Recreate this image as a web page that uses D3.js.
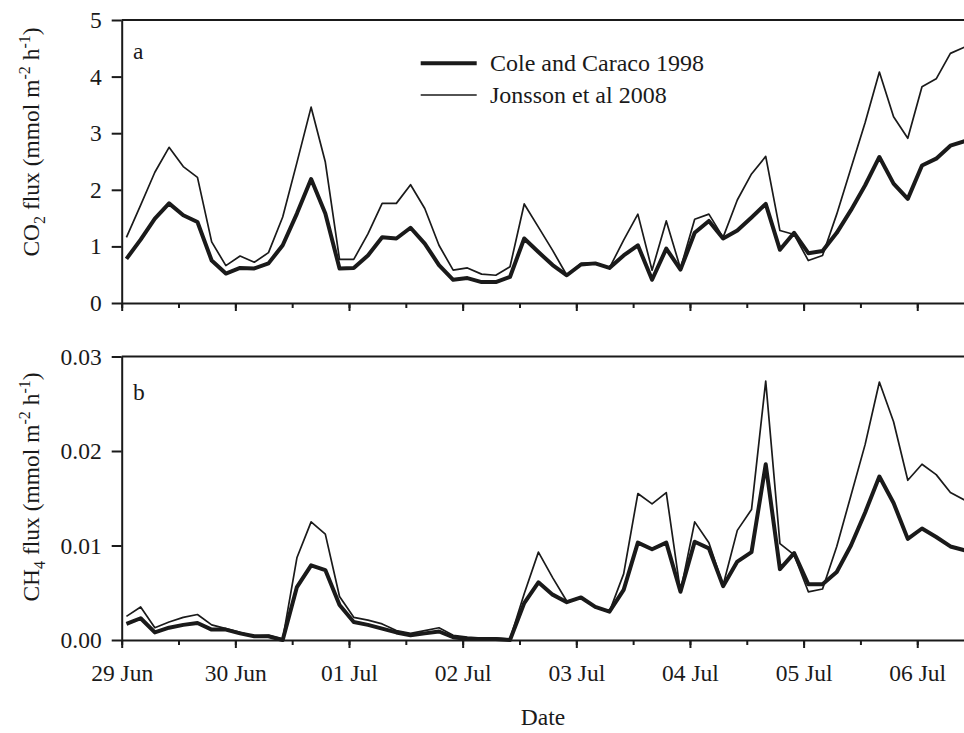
<!DOCTYPE html>
<html>
<head>
<meta charset="utf-8">
<script src="https://cdn.jsdelivr.net/npm/d3@7"></script>
<style>
  html, body { margin: 0; padding: 0; background: #fff; }
  svg { display: block; }
  text { font-family: "Liberation Serif", "Times New Roman", serif; fill: #1a1a1a; }
</style>
</head>
<body>
<svg id="chart" width="964" height="733"></svg>
<script>
// Sampling times (3-hourly)
const times = [
  "06-29 01:00","06-29 04:00","06-29 07:00","06-29 10:00","06-29 13:00","06-29 16:00","06-29 19:00","06-29 22:00",
  "06-30 01:00","06-30 04:00","06-30 07:00","06-30 10:00","06-30 13:00","06-30 16:00","06-30 19:00","06-30 22:00",
  "07-01 01:00","07-01 04:00","07-01 07:00","07-01 10:00","07-01 13:00","07-01 16:00","07-01 19:00","07-01 22:00",
  "07-02 01:00","07-02 04:00","07-02 07:00","07-02 10:00","07-02 13:00","07-02 16:00","07-02 19:00","07-02 22:00",
  "07-03 01:00","07-03 04:00","07-03 07:00","07-03 10:00","07-03 13:00","07-03 16:00","07-03 19:00","07-03 22:00",
  "07-04 01:00","07-04 04:00","07-04 07:00","07-04 10:00","07-04 13:00","07-04 16:00","07-04 19:00","07-04 22:00",
  "07-05 01:00","07-05 04:00","07-05 07:00","07-05 10:00","07-05 13:00","07-05 16:00","07-05 19:00","07-05 22:00",
  "07-06 01:00","07-06 04:00","07-06 07:00","07-06 10:00"
];

// CO2 flux (mmol m-2 h-1)
const co2Cole = [
  0.78,1.12,1.49,1.76,1.55,1.43,0.75,0.52,
  0.62,0.61,0.70,1.02,1.58,2.19,1.58,0.61,
  0.62,0.84,1.16,1.14,1.33,1.05,0.67,0.41,
  0.44,0.37,0.37,0.46,1.14,0.90,0.67,0.49,
  0.68,0.70,0.62,0.84,1.02,0.41,0.96,0.59,
  1.24,1.45,1.14,1.28,1.51,1.75,0.94,1.24,
  0.88,0.92,1.24,1.64,2.08,2.58,2.11,1.84,
  2.43,2.55,2.78,2.86
];
const co2Jonsson = [
  1.16,1.73,2.31,2.75,2.41,2.22,1.08,0.66,
  0.83,0.72,0.89,1.52,2.48,3.46,2.49,0.77,
  0.77,1.22,1.76,1.76,2.09,1.67,1.02,0.58,
  0.62,0.51,0.49,0.64,1.75,1.34,0.93,0.49,
  0.70,0.71,0.62,1.11,1.57,0.58,1.45,0.61,
  1.48,1.57,1.16,1.82,2.28,2.59,1.28,1.21,
  0.75,0.84,1.57,2.38,3.19,4.08,3.29,2.91,
  3.82,3.96,4.41,4.52
];

// CH4 flux (mmol m-2 h-1)
const ch4Cole = [
  0.0017,0.0023,0.0008,0.0013,0.0016,0.0018,0.0011,0.0011,
  0.0007,0.0004,0.0004,0.0000,0.0056,0.0079,0.0074,0.0037,
  0.0019,0.0016,0.0012,0.0008,0.0005,0.0007,0.0009,0.0003,
  0.0001,0.0001,0.0001,0.0000,0.0039,0.0061,0.0048,0.0040,
  0.0045,0.0035,0.0030,0.0053,0.0103,0.0096,0.0103,0.0051,
  0.0104,0.0097,0.0057,0.0083,0.0093,0.0186,0.0075,0.0092,
  0.0059,0.0059,0.0072,0.0100,0.0135,0.0173,0.0145,0.0107,
  0.0118,0.0109,0.0099,0.0095
];
const ch4Jonsson = [
  0.0025,0.0035,0.0013,0.0019,0.0024,0.0027,0.0016,0.0012,
  0.0008,0.0004,0.0005,0.0001,0.0087,0.0125,0.0112,0.0046,
  0.0024,0.0021,0.0017,0.0010,0.0007,0.0010,0.0013,0.0005,
  0.0003,0.0002,0.0002,0.0001,0.0049,0.0093,0.0066,0.0041,
  0.0045,0.0035,0.0030,0.0070,0.0155,0.0144,0.0156,0.0051,
  0.0125,0.0103,0.0058,0.0116,0.0138,0.0274,0.0102,0.0090,
  0.0051,0.0054,0.0099,0.0153,0.0207,0.0273,0.0231,0.0169,
  0.0186,0.0175,0.0156,0.0148
];

const seriesNames = ["Cole and Caraco 1998", "Jonsson et al 2008"];
const co2Ticks = [0, 1, 2, 3, 4, 5];
const ch4Ticks = [0, 0.01, 0.02, 0.03];

const parse = d3.timeParse("%m-%d %H:%M");
const dates = times.map(parse);

const svg = d3.select("#chart");
const W = 964, H = 733;
const left = 121.7;
const dayPx = 113.65;
const ink = "#1a1a1a";
const fontSize = 23.5;

const x = d3.scaleTime()
  .domain([parse("06-29 00:00"), parse("07-06 12:00")])
  .range([left, left + dayPx * 7.5]);

const dayTicks = d3.timeDay.range(parse("06-29 00:00"), parse("07-06 12:00"));
const halfTicks = d3.timeHour.every(12).range(parse("06-29 00:00"), parse("07-06 12:00"));

svg.append("defs").append("clipPath").attr("id", "plotClip")
  .append("rect").attr("x", left).attr("y", 0).attr("width", W - left).attr("height", H);

function drawPanel(yTop, yBottom, domainMax, ticks, tickFmt, cole, jonsson, showDates) {
  const y = d3.scaleLinear().domain([0, domainMax]).range([yBottom, yTop]);
  const g = svg.append("g");

  // minor (12 h) ticks
  const minor = g.append("g").attr("transform", `translate(0,${yBottom})`)
    .call(d3.axisBottom(x).tickValues(halfTicks).tickSizeInner(5).tickSizeOuter(0).tickFormat(""));
  minor.select(".domain").remove();
  minor.selectAll("line").attr("stroke", ink).attr("stroke-width", 2);

  // day ticks
  const major = g.append("g").attr("transform", `translate(0,${yBottom})`)
    .call(d3.axisBottom(x).tickValues(dayTicks).tickSizeInner(8).tickSizeOuter(0)
      .tickPadding(16).tickFormat(showDates ? d3.timeFormat("%d %b") : ""));
  major.select(".domain").attr("stroke", ink).attr("stroke-width", 2)
    .attr("d", `M${left},0.5H${W + 5}`);
  major.selectAll("line").attr("stroke", ink).attr("stroke-width", 2);
  major.selectAll("text").attr("font-size", fontSize).attr("font-family", null).style("fill", ink);

  // top frame line
  g.append("line").attr("x1", left).attr("x2", W + 5).attr("y1", yTop).attr("y2", yTop)
    .attr("stroke", ink).attr("stroke-width", 2);

  // y axis
  const ya = g.append("g").attr("transform", `translate(${left},0)`)
    .call(d3.axisLeft(y).tickValues(ticks).tickSizeInner(10).tickSizeOuter(0)
      .tickPadding(10).tickFormat(tickFmt));
  ya.select(".domain").attr("stroke", ink).attr("stroke-width", 2);
  ya.selectAll("line").attr("stroke", ink).attr("stroke-width", 2);
  ya.selectAll("text").attr("font-size", fontSize).attr("font-family", null).style("fill", ink);

  const line = d3.line().x((d, i) => x(dates[i])).y(d => y(d));
  const lines = g.append("g").attr("clip-path", "url(#plotClip)");
  lines.append("path").datum(jonsson).attr("d", line)
    .attr("fill", "none").attr("stroke", ink).attr("stroke-width", 1.7).attr("stroke-linejoin", "round");
  lines.append("path").datum(cole).attr("d", line)
    .attr("fill", "none").attr("stroke", ink).attr("stroke-width", 4).attr("stroke-linejoin", "round");
  return g;
}

drawPanel(20, 303, 5, co2Ticks, d3.format("d"), co2Cole, co2Jonsson, false);
drawPanel(356.5, 640, 0.03, ch4Ticks, d3.format(".2f"), ch4Cole, ch4Jonsson, true);

// panel letters
svg.append("text").attr("x", 133).attr("y", 58.5).attr("font-size", fontSize).text("a");
svg.append("text").attr("x", 133).attr("y", 400).attr("font-size", fontSize).text("b");

// legend
const legend = svg.append("g");
[[63.3, 4], [95, 1.7]].forEach(([ly, sw], i) => {
  legend.append("line").attr("x1", 420.7).attr("x2", 476.7).attr("y1", ly).attr("y2", ly)
    .attr("stroke", ink).attr("stroke-width", sw);
  legend.append("text").attr("x", 490).attr("y", ly + 8).attr("font-size", 24).text(seriesNames[i]);
});

// axis titles
function yTitle(cx, cy, chem, sub) {
  const t = svg.append("text").attr("transform", `translate(${cx},${cy}) rotate(-90)`)
    .attr("text-anchor", "middle").attr("font-size", fontSize);
  t.append("tspan").text(chem);
  t.append("tspan").attr("font-size", 16).attr("dy", 6).text(sub);
  t.append("tspan").attr("dy", -6).text(" flux (mmol m");
  t.append("tspan").attr("font-size", 16).attr("dy", -9).text("-2");
  t.append("tspan").attr("dy", 9).text(" h");
  t.append("tspan").attr("font-size", 16).attr("dy", -9).text("-1");
  t.append("tspan").attr("dy", 9).text(")");
}
yTitle(39, 142, "CO", "2");
yTitle(39, 487, "CH", "4");

svg.append("text").attr("x", 543).attr("y", 725).attr("text-anchor", "middle")
  .attr("font-size", fontSize).text("Date");
</script>
</body>
</html>
